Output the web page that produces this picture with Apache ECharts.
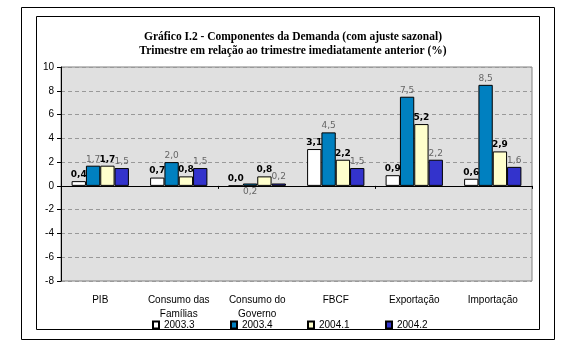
<!DOCTYPE html>
<html><head><meta charset="utf-8">
<script src="https://cdn.jsdelivr.net/npm/echarts@6/dist/echarts.min.js"></script>
<style>html,body{margin:0;padding:0;background:#fff}#c{width:572px;height:357px}</style>
</head><body><div id="c"></div>
<script>
var categories = ['PIB', 'Consumo das\nFamílias', 'Consumo do\nGoverno', 'FBCF', 'Exportação', 'Importação'];
var seriesNames = ['2003.3', '2003.4', '2004.1', '2004.2'];
var s2003_3 = [0.4, 0.7, 0.0, 3.1, 0.9, 0.6];
var s2003_4 = [1.7, 2.0, 0.2, 4.5, 7.5, 8.5];
var s2004_1 = [1.7, 0.8, 0.8, 2.2, 5.2, 2.9];
var s2004_2 = [1.5, 1.5, 0.2, 1.5, 2.2, 1.6];
var yTicks = [-8, -6, -4, -2, 0, 2, 4, 6, 8, 10];

var colors = ['#FFFFFF', '#0080C0', '#FFFFCC', '#3333CC'];
var allData = [s2003_3, s2003_4, s2004_1, s2004_2];
var boldSeries = [true, false, true, false];
var legendLeft = [152, 230, 307, 385];

function fmt(v){ return v.toFixed(1).replace('.', ','); }

var series = allData.map(function(arr, i){
  return {
    name: seriesNames[i], type: 'bar', xAxisIndex: 0,
    barGap: '0%', barCategoryGap: '27%',
    itemStyle: {color: colors[i], borderColor: '#000', borderWidth: 1},
    label: {
      show: true, position: 'top', distance: 2,
      fontFamily: 'DejaVu Sans', fontSize: 9,
      fontWeight: boldSeries[i] ? 'bold' : 'normal',
      color: boldSeries[i] ? '#000' : '#666',
      formatter: function(p){ return fmt(p.value); }
    },
    data: arr.map(function(v, j){
      if (i === 1 && j === 2) return {value: v, label: {position: 'bottom', distance: 1}};
      return v;
    })
  };
});

var legends = seriesNames.map(function(n, i){
  return {
    data: [n], left: legendLeft[i], top: 320, padding: 0,
    itemWidth: 6, itemHeight: 7, itemTextGap: 2, icon: 'rect',
    textStyle: {fontFamily: 'Liberation Sans', fontSize: 10, color: '#000', padding: [3,0,0,0]}
  };
});

var chart = echarts.init(document.getElementById('c'), null, {renderer: 'canvas'});
chart.setOption({
  animation: false,
  backgroundColor: '#fff',
  title: {
    text: 'Gráfico I.2 - Componentes da Demanda (com ajuste sazonal)\nTrimestre em relação ao trimestre imediatamente anterior (%)',
    left: 288, top: 25, textAlign: 'center',
    textStyle: {fontFamily: 'Liberation Serif', fontWeight: 'bold', fontSize: 11.5, lineHeight: 14, color: '#000'}
  },
  graphic: [
    {type: 'rect', shape: {x: 21.5, y: 7.5, width: 533, height: 332}, style: {fill: 'none', stroke: '#000', lineWidth: 1}, silent: true, z: -1},
    {type: 'rect', shape: {x: 36.5, y: 16.5, width: 503, height: 313}, style: {fill: 'none', stroke: '#000', lineWidth: 1}, silent: true, z: -1}
  ],
  legend: legends,
  grid: {
    left: 61, right: 40, top: 67, bottom: 76,
    show: true, backgroundColor: '#E0E0E0', borderColor: '#808080', borderWidth: 1
  },
  xAxis: [
    {
      type: 'category', data: categories, position: 'bottom',
      axisLine: {onZero: true, lineStyle: {color: '#000', width: 1}},
      axisTick: {show: true, inside: false, length: 3, lineStyle: {color: '#000'}},
      axisLabel: {show: false}
    },
    {
      type: 'category', data: categories, position: 'bottom',
      axisLine: {show: false}, axisTick: {show: false},
      axisLabel: {show: true, margin: 12, fontFamily: 'Liberation Sans', fontSize: 10, lineHeight: 14, color: '#000', interval: 0}
    }
  ],
  yAxis: {
    type: 'value', min: yTicks[0], max: yTicks[yTicks.length-1], interval: 2,
    axisLine: {show: true, lineStyle: {color: '#000'}},
    axisTick: {show: true, inside: false, length: 4, lineStyle: {color: '#000'}},
    axisLabel: {margin: 7, fontFamily: 'Liberation Sans', fontSize: 10, color: '#000',
      formatter: function(v){ return String(v); }},
    splitLine: {show: true, lineStyle: {color: '#999', type: [4, 3]}}
  },
  series: series
});
</script></body></html>
